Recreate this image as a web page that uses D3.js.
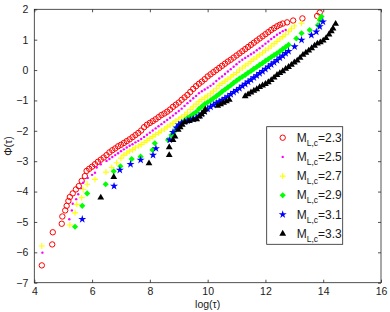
<!DOCTYPE html>
<html>
<head>
<meta charset="utf-8">
<script src="https://cdn.jsdelivr.net/npm/d3@7"></script>
<style>
  body { margin: 0; background: #fff; }
  text { font-family: "Liberation Sans", Arial, sans-serif; }
</style>
</head>
<body>
<div id="chart"></div>
<script>
// values, [log(tau), Phi(tau)]
var red23 = [[4.26,-6.43],[4.62,-5.74],[4.64,-5.34],[4.95,-5.06],[4.97,-4.82],[5.07,-4.62],[5.12,-4.47],[5.18,-4.31],
  [5.23,-4.18],[5.33,-4.06],[5.44,-3.93],[5.54,-3.82],[5.64,-3.65],[5.75,-3.49],[5.81,-3.32],[5.90,-3.25],[6.00,-3.18],
  [6.10,-3.10],[6.20,-3.02],[6.30,-2.95],[6.40,-2.88],[6.50,-2.80],[6.60,-2.71],[6.70,-2.64],[6.80,-2.58],[6.90,-2.51],
  [7.00,-2.46],[7.10,-2.40],[7.20,-2.34],[7.30,-2.28],[7.40,-2.21],[7.50,-2.14],[7.60,-2.07],[7.70,-1.99],[7.80,-1.88],
  [7.90,-1.80],[8.00,-1.74],[8.10,-1.68],[8.20,-1.62],[8.30,-1.55],[8.40,-1.48],[8.50,-1.43],[8.60,-1.37],[8.70,-1.30],
  [8.80,-1.21],[8.90,-1.14],[9.00,-1.07],[9.10,-0.98],[9.20,-0.90],[9.30,-0.82],[9.40,-0.72],[9.50,-0.62],[9.60,-0.53],
  [9.70,-0.45],[9.80,-0.38],[9.90,-0.30],[10.00,-0.21],[10.10,-0.14],[10.20,-0.07],[10.30,0.00],[10.40,0.07],[10.50,0.14],
  [10.60,0.21],[10.70,0.28],[10.80,0.34],[10.90,0.41],[11.00,0.48],[11.10,0.55],[11.20,0.62],[11.30,0.69],[11.40,0.76],
  [11.50,0.83],[11.60,0.90],[11.70,0.97],[11.80,1.04],[11.90,1.11],[12.00,1.18],[12.10,1.25],[12.20,1.32],[12.30,1.38],
  [12.40,1.44],[12.50,1.49],[12.60,1.53],[12.75,1.57],[12.96,1.63],[13.28,1.70],[13.79,1.78],[13.88,1.89]];

var mag25 = [[4.28,-6.01],[5.21,-4.91],[5.30,-4.62],[5.33,-4.40],[5.45,-4.25],[5.52,-4.09],[5.62,-3.90],[5.69,-3.71],
  [5.85,-3.55],[6.00,-3.45],[6.10,-3.38],[6.16,-3.21],[6.30,-3.10],[6.50,-2.99],[6.60,-2.93],[6.70,-2.86],[6.80,-2.80],
  [6.90,-2.74],[7.00,-2.67],[7.10,-2.61],[7.20,-2.55],[7.30,-2.49],[7.40,-2.44],[7.50,-2.38],[7.60,-2.33],[7.70,-2.27],
  [7.80,-2.20],[7.90,-2.13],[8.00,-2.06],[8.10,-1.99],[8.20,-1.92],[8.30,-1.85],[8.40,-1.78],[8.50,-1.71],[8.60,-1.64],
  [8.70,-1.57],[8.80,-1.50],[8.90,-1.42],[9.00,-1.35],[9.10,-1.27],[9.20,-1.18],[9.30,-1.09],[9.40,-1.01],[9.50,-0.93],
  [9.60,-0.85],[9.70,-0.76],[9.80,-0.70],[9.90,-0.64],[10.00,-0.58],[10.10,-0.52],[10.20,-0.45],[10.30,-0.36],[10.40,-0.28],
  [10.50,-0.21],[10.60,-0.13],[10.70,-0.05],[10.80,0.03],[10.90,0.11],[11.00,0.19],[11.10,0.27],[11.20,0.34],[11.30,0.40],
  [11.40,0.46],[11.50,0.52],[11.60,0.58],[11.70,0.65],[11.80,0.72],[11.90,0.79],[12.00,0.87],[12.10,0.94],[12.20,1.02],
  [12.30,1.09],[12.40,1.16],[12.50,1.22],[12.60,1.28],[12.70,1.32]];

var yel27 = [[4.26,-5.79],[5.23,-5.10],[5.41,-4.70],[5.47,-4.42],[5.64,-4.20],[5.69,-3.93],[5.83,-3.76],[6.10,-3.60],
  [6.48,-3.36],[6.68,-3.21],[6.85,-3.05],[7.00,-2.90],[7.10,-2.80],[7.20,-2.73],[7.30,-2.67],[7.40,-2.62],[7.50,-2.56],
  [7.60,-2.50],[7.70,-2.45],[7.80,-2.38],[7.90,-2.32],[8.00,-2.25],[8.10,-2.19],[8.20,-2.12],[8.30,-2.06],[8.40,-2.00],
  [8.50,-1.94],[8.60,-1.87],[8.70,-1.81],[8.80,-1.75],[8.90,-1.68],[9.00,-1.62],[9.10,-1.55],[9.20,-1.47],[9.30,-1.39],
  [9.40,-1.30],[9.50,-1.21],[9.60,-1.12],[9.70,-1.04],[9.80,-0.97],[9.90,-0.91],[10.00,-0.85],[10.10,-0.78],[10.20,-0.70],
  [10.30,-0.60],[10.40,-0.51],[10.50,-0.44],[10.60,-0.37],[10.70,-0.30],[10.80,-0.23],[10.90,-0.15],[11.00,-0.08],
  [11.10,0.00],[11.20,0.07],[11.30,0.14],[11.40,0.21],[11.50,0.28],[11.60,0.36],[11.70,0.43],[11.80,0.50],[11.90,0.57],
  [12.00,0.65],[12.10,0.72],[12.20,0.79],[12.30,0.87],[12.40,0.94],[12.50,1.02],[12.60,1.10],[12.70,1.18],[12.80,1.26],
  [12.90,1.36],[13.00,1.45],[13.25,1.54],[13.88,1.70]];

var grn29 = [[5.41,-5.16],[5.66,-4.47],[5.83,-4.06],[6.47,-3.76],[6.75,-3.33],[6.98,-3.17],[7.37,-2.93],[7.68,-2.85],
  [8.09,-2.63],[8.17,-2.41],[8.63,-2.30],[8.75,-2.14],[8.85,-2.02],[8.92,-1.90],[9.00,-1.82],[9.10,-1.74],[9.20,-1.66],
  [9.30,-1.58],[9.40,-1.52],[9.50,-1.45],[9.60,-1.38],[9.70,-1.28],[9.80,-1.20],[9.90,-1.12],[10.00,-1.06],[10.10,-1.00],
  [10.20,-0.93],[10.30,-0.86],[10.40,-0.79],[10.50,-0.71],[10.60,-0.64],[10.70,-0.57],[10.80,-0.50],[10.90,-0.42],
  [11.00,-0.35],[11.10,-0.28],[11.20,-0.22],[11.30,-0.16],[11.40,-0.09],[11.50,-0.03],[11.60,0.04],[11.70,0.10],
  [11.80,0.17],[11.90,0.23],[12.00,0.30],[12.10,0.36],[12.20,0.43],[12.30,0.49],[12.40,0.55],[12.50,0.62],[12.60,0.69],
  [12.70,0.76],[12.80,0.83],[13.07,1.04],[13.25,1.21],[13.53,1.32],[13.82,1.48],[13.88,1.65],[13.94,1.76]];

var blu31 = [[5.66,-4.91],[6.76,-3.82],[6.96,-3.29],[7.33,-3.10],[7.68,-2.96],[8.11,-2.80],[8.21,-2.58],[8.69,-2.30],
  [8.80,-2.05],[8.92,-1.90],[9.00,-1.80],[9.10,-1.74],[9.20,-1.70],[9.30,-1.67],[9.40,-1.64],[9.50,-1.61],[9.60,-1.58],
  [9.70,-1.51],[9.80,-1.44],[9.90,-1.37],[10.00,-1.28],[10.10,-1.21],[10.20,-1.15],[10.30,-1.09],[10.40,-1.04],
  [10.50,-0.99],[10.60,-0.93],[10.70,-0.87],[10.80,-0.80],[10.90,-0.73],[11.00,-0.67],[11.10,-0.60],[11.20,-0.53],
  [11.30,-0.46],[11.40,-0.39],[11.50,-0.32],[11.60,-0.25],[11.70,-0.18],[11.80,-0.11],[11.90,-0.04],[12.00,0.03],
  [12.10,0.11],[12.20,0.18],[12.30,0.25],[12.40,0.32],[12.50,0.40],[12.60,0.47],[12.70,0.55],[12.80,0.62],[13.01,0.77],
  [13.25,0.99],[13.59,1.15],[13.76,1.26],[13.88,1.43],[13.99,1.59]];

var blk33 = [[6.30,-4.20],[6.75,-3.52],[7.97,-3.07],[8.67,-2.80],[8.67,-2.54],[8.80,-2.30],[8.87,-2.19],[8.98,-1.97],
  [9.05,-1.88],[9.12,-1.80],[9.21,-1.72],[9.35,-1.68],[9.50,-1.64],[9.62,-1.62],[9.72,-1.53],[9.79,-1.46],[9.86,-1.38],
  [9.92,-1.30],[10.35,-1.18],[10.45,-1.13],[10.55,-1.08],[10.65,-1.03],[10.75,-0.98],[11.30,-0.86],[11.40,-0.80],
  [11.50,-0.74],[11.60,-0.68],[11.70,-0.63],[11.80,-0.56],[11.90,-0.51],[12.00,-0.46],[12.10,-0.40],[12.20,-0.33],
  [12.30,-0.25],[12.40,-0.16],[12.50,-0.10],[12.60,-0.04],[12.70,0.04],[12.80,0.10],[12.90,0.17],[13.00,0.25],
  [13.10,0.31],[13.20,0.40],[13.30,0.50],[13.40,0.57],[13.50,0.64],[13.60,0.72],[13.70,0.80],[13.80,0.87],[13.90,0.91],
  [14.00,0.97],[14.10,1.05],[14.20,1.17],[14.28,1.28],[14.34,1.37],[14.43,1.52]];

var seriesNames = ['2.3', '2.5', '2.7', '2.9', '3.1', '3.3'];
var xTicks = [4, 6, 8, 10, 12, 14, 16];
var yTicks = [-7, -6, -5, -4, -3, -2, -1, 0, 1, 2];

var W = 390, H = 312;
var margin = {left: 34.3, right: 9, top: 9.3, bottom: 29.3};

var x = d3.scaleLinear().domain([4, 16]).range([margin.left, W - margin.right]);
var y = d3.scaleLinear().domain([-7, 2]).range([H - margin.bottom, margin.top]);

var svg = d3.select('#chart').append('svg').attr('width', W).attr('height', H);

// marker shapes, matlab style
var plusPath = function(s) { return 'M' + (-s) + ',0H' + s + 'M0,' + (-s) + 'V' + s; };
var styles = [
  {data: red23, kind: 'circle', color: '#ff0000'},
  {data: mag25, kind: 'dot', color: '#ff00ff'},
  {data: yel27, kind: 'plus', color: '#ffff00'},
  {data: grn29, kind: 'sym', sym: d3.symbolDiamond2, size: 24, color: '#00ff00'},
  {data: blu31, kind: 'sym', sym: d3.symbolStar, size: 20, color: '#0000ff'},
  {data: blk33, kind: 'sym', sym: d3.symbolTriangle, size: 20, color: '#000000'}
];

function drawMarker(g, st) {
  if (st.kind == 'circle') {
    g.append('circle').attr('r', 2.7).attr('fill', 'none').attr('stroke', st.color).attr('stroke-width', 1);
  } else if (st.kind == 'dot') {
    g.append('circle').attr('r', 1.2).attr('fill', st.color);
  } else if (st.kind == 'plus') {
    g.append('path').attr('d', plusPath(3)).attr('stroke', st.color).attr('stroke-width', 1.1).attr('fill', 'none');
  } else {
    g.append('path').attr('d', d3.symbol().type(st.sym).size(st.size)()).attr('fill', st.color);
  }
}

var plot = svg.append('g');
styles.forEach(function(st) {
  plot.append('g').selectAll('g').data(st.data).enter().append('g')
    .attr('transform', function(d) { return 'translate(' + x(d[0]) + ',' + y(d[1]) + ')'; })
    .each(function() { drawMarker(d3.select(this), st); });
});

// axes box with ticks on all four sides, pointing inward
var axisColor = '#262626';
svg.append('rect').attr('x', x(4)).attr('y', y(2)).attr('width', x(16) - x(4)).attr('height', y(-7) - y(2))
  .attr('fill', 'none').attr('stroke', axisColor).attr('stroke-width', 0.8);

var xb = svg.append('g').attr('transform', 'translate(0,' + y(-7) + ')')
  .call(d3.axisBottom(x).tickValues(xTicks).tickSizeInner(-3).tickSizeOuter(0).tickPadding(5));
var xt = svg.append('g').attr('transform', 'translate(0,' + y(2) + ')')
  .call(d3.axisTop(x).tickValues(xTicks).tickSizeInner(-3).tickSizeOuter(0).tickFormat(''));
var yl = svg.append('g').attr('transform', 'translate(' + x(4) + ',0)')
  .call(d3.axisLeft(y).tickValues(yTicks).tickSizeInner(-3).tickSizeOuter(0).tickPadding(6).tickFormat(function(d) { return d < 0 ? '\u2212' + Math.abs(d) : d; }));
var yr = svg.append('g').attr('transform', 'translate(' + x(16) + ',0)')
  .call(d3.axisRight(y).tickValues(yTicks).tickSizeInner(-3).tickSizeOuter(0).tickFormat(''));

[xb, xt, yl, yr].forEach(function(a) {
  a.select('.domain').remove();
  a.selectAll('line').attr('stroke', axisColor).attr('stroke-width', 0.8);
  a.selectAll('text').attr('fill', '#1a1a1a').style('font-size', '10.5px').style('font-family', '"Liberation Sans", Arial, sans-serif');
});

svg.append('text').attr('x', (x(4) + x(16)) / 2).attr('y', 308).attr('text-anchor', 'middle')
  .style('font-size', '10.5px').attr('fill', '#1a1a1a').text('log(\u03c4)');
svg.append('text').attr('transform', 'translate(12,' + ((y(2) + y(-7)) / 2) + ') rotate(-90)').attr('text-anchor', 'middle')
  .style('font-size', '10.5px').attr('fill', '#1a1a1a').text('\u03a6(\u03c4)');

// legend
var lg = svg.append('g').attr('transform', 'translate(266.7,126.7)');
lg.append('rect').attr('width', 76).attr('height', 117.6).attr('fill', '#fff').attr('stroke', axisColor).attr('stroke-width', 0.8);
styles.forEach(function(st, i) {
  var row = lg.append('g').attr('transform', 'translate(0,' + (11 + i * 19.2) + ')');
  drawMarker(row.append('g').attr('transform', 'translate(16,0)'), st);
  var t = row.append('text').attr('x', 30).attr('y', 4).style('font-size', '12px').attr('fill', '#1a1a1a');
  t.append('tspan').text('M');
  t.append('tspan').attr('dy', 4).style('font-size', '8.5px').text('L,c');
  t.append('tspan').attr('dy', -4).text('=' + seriesNames[i]);
});
</script>
</body>
</html>
